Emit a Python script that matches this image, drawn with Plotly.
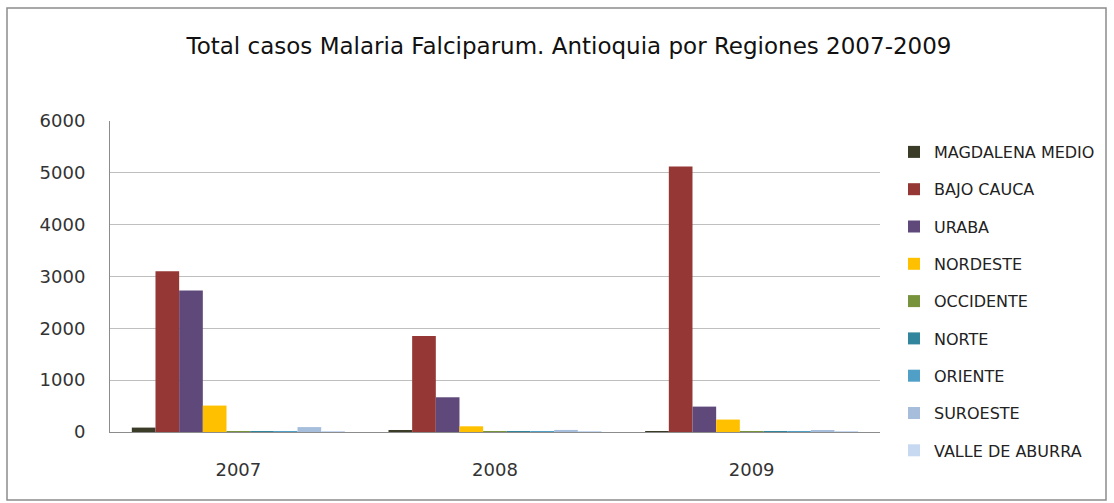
import plotly.graph_objects as go

years = ["2007", "2008", "2009"]
regions = ["MAGDALENA MEDIO", "BAJO CAUCA", "URABA", "NORDESTE", "OCCIDENTE",
           "NORTE", "ORIENTE", "SUROESTE", "VALLE DE ABURRA"]
magdalena_medio = [85, 30, 2]
bajo_cauca = [3100, 1850, 5120]
uraba = [2730, 670, 490]
nordeste = [510, 110, 240]
occidente = [3, 2, 1]
norte = [4, 2, 2]
oriente = [2, 1, 1]
suroeste = [95, 40, 20]
valle_de_aburra = [3, 2, 1]
series = [magdalena_medio, bajo_cauca, uraba, nordeste, occidente, norte, oriente, suroeste, valle_de_aburra]
colors = ["#3b3c28", "#953735", "#5f497a", "#ffc000", "#77933c",
          "#31859c", "#4f9fc6", "#a6bedc", "#c6d9f1"]

fig = go.Figure()
for name, vals, c in zip(regions, series, colors):
    fig.add_trace(go.Bar(x=years, y=vals, name=name, marker_color=c,
                         marker_line_width=0, legendgroup=name))

FONT = "DejaVu Sans"
W, H = 1114, 503
L, R, T, B = 110, 234, 121, 71
pw, ph = W - L - R, H - T - B

def px(x):
    return (x - L) / pw

def py(y):
    return (H - B - y) / ph

fig.update_layout(
    width=W, height=H,
    margin=dict(l=L, r=R, t=T, b=B),
    paper_bgcolor="white", plot_bgcolor="white",
    barmode="group", bargap=0.17, bargroupgap=0,
    font=dict(family=FONT, color="#333333"),
    title=dict(text="Total casos Malaria Falciparum. Antioquia por Regiones 2007-2009",
               x=569 / W, xanchor="center", y=1 - 46 / H, yanchor="middle",
               font=dict(size=23, family=FONT, color="#111111")),
    legend=dict(x=px(894), y=py(135), xanchor="left", yanchor="top",
                font=dict(size=16, family=FONT, color="#222222"),
                tracegroupgap=13.5, itemwidth=30, bgcolor="rgba(0,0,0,0)",
                maxheight=1000),
    xaxis=dict(showline=True, linecolor="#8c8c8c", linewidth=1,
               ticks="outside", ticklen=21, tickcolor="rgba(0,0,0,0)",
               tickfont=dict(size=18, family=FONT, color="#333333"),
               showgrid=False),
    yaxis=dict(range=[0, 6000], dtick=1000, showgrid=True, gridcolor="#bfbfbf",
               gridwidth=1, showline=True, linecolor="#8c8c8c", linewidth=1,
               ticks="outside", ticklen=20, tickcolor="rgba(0,0,0,0)",
               tickfont=dict(size=18, family=FONT, color="#333333"),
               zeroline=False),
    shapes=[dict(type="rect", xref="paper", yref="paper",
                 x0=px(7), x1=px(1106), y0=py(500), y1=py(8),
                 line=dict(color="#8c8c8c", width=1.5), fillcolor="rgba(0,0,0,0)",
                 layer="below")],
)

fig.write_html("out.html")
